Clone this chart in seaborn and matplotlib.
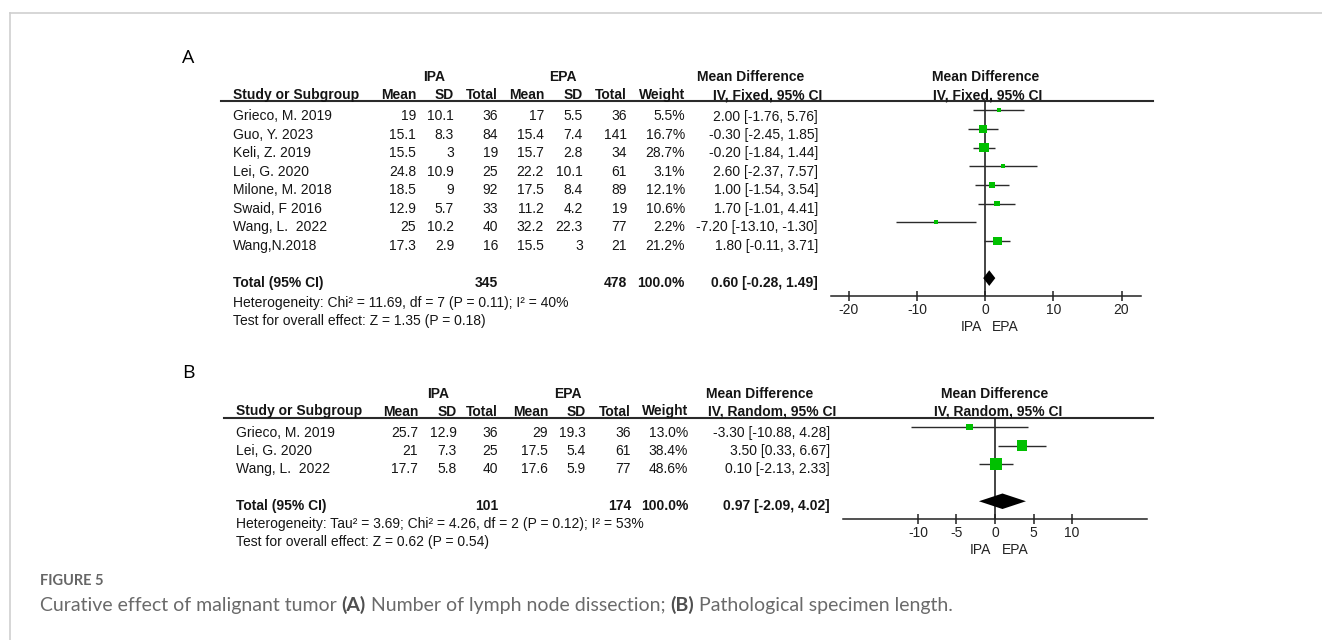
import numpy as np
import matplotlib
matplotlib.use("Agg")
import matplotlib.pyplot as plt
import seaborn as sns

# ---------------- data : panel A (number of lymph node dissection) ----------------
a_studies = ["Grieco, M. 2019", "Guo, Y. 2023", "Keli, Z. 2019", "Lei, G. 2020",
             "Milone, M. 2018", "Swaid, F 2016", "Wang, L.  2022", "Wang,N.2018"]
a_ipa_mean = [19, 15.1, 15.5, 24.8, 18.5, 12.9, 25, 17.3]
a_ipa_sd = [10.1, 8.3, 3, 10.9, 9, 5.7, 10.2, 2.9]
a_ipa_n = [36, 84, 19, 25, 92, 33, 40, 16]
a_epa_mean = [17, 15.4, 15.7, 22.2, 17.5, 11.2, 32.2, 15.5]
a_epa_sd = [5.5, 7.4, 2.8, 10.1, 8.4, 4.2, 22.3, 3]
a_epa_n = [36, 141, 34, 61, 89, 19, 77, 21]
a_weight = [5.5, 16.7, 28.7, 3.1, 12.1, 10.6, 2.2, 21.2]
a_md = [2.00, -0.30, -0.20, 2.60, 1.00, 1.70, -7.20, 1.80]
a_lo = [-1.76, -2.45, -1.84, -2.37, -1.54, -1.01, -13.10, -0.11]
a_hi = [5.76, 1.85, 1.44, 7.57, 3.54, 4.41, -1.30, 3.71]
a_total_n = [345, 478]
a_total_ci = [0.60, -0.28, 1.49]
a_ticks = [-20, -10, 0, 10, 20]
a_method = "IV, Fixed, 95% CI"
a_het = "Heterogeneity: Chi\u00b2 = 11.69, df = 7 (P = 0.11); I\u00b2 = 40%"
a_test = "Test for overall effect: Z = 1.35 (P = 0.18)"

# ---------------- data : panel B (pathological specimen length) ----------------
b_studies = ["Grieco, M. 2019", "Lei, G. 2020", "Wang, L.  2022"]
b_ipa_mean = [25.7, 21, 17.7]
b_ipa_sd = [12.9, 7.3, 5.8]
b_ipa_n = [36, 25, 40]
b_epa_mean = [29, 17.5, 17.6]
b_epa_sd = [19.3, 5.4, 5.9]
b_epa_n = [36, 61, 77]
b_weight = [13.0, 38.4, 48.6]
b_md = [-3.30, 3.50, 0.10]
b_lo = [-10.88, 0.33, -2.13]
b_hi = [4.28, 6.67, 2.33]
b_total_n = [101, 174]
b_total_ci = [0.97, -2.09, 4.02]
b_ticks = [-10, -5, 0, 5, 10]
b_method = "IV, Random, 95% CI"
b_het = "Heterogeneity: Tau\u00b2 = 3.69; Chi\u00b2 = 4.26, df = 2 (P = 0.12); I\u00b2 = 53%"
b_test = "Test for overall effect: Z = 0.62 (P = 0.54)"

group_labels = ["IPA", "EPA"]
col_heads = ["Mean", "SD", "Total", "Mean", "SD", "Total", "Weight"]
caption_title = "FIGURE 5"
caption_parts = [("Curative effect of malignant tumor ", False), ("(A)", True),
                 (" Number of lymph node dissection; ", False), ("(B)", True),
                 (" Pathological specimen length.", False)]

# ---------------- figure ----------------
W, H = 1322, 640
fig = plt.figure(figsize=(W / 100, H / 100), dpi=100)
SANS = ["Liberation Sans", "DejaVu Sans"]
plt.rcParams["font.family"] = SANS
TXT = "#151515"
GREEN = "#00c000"

bg = fig.add_axes([0, 0, 1, 1])
bg.set_xlim(0, W)
bg.set_ylim(H, 0)
bg.axis("off")

# light frame
bg.plot([9.5, 9.5], [H, 12.5], color="#cfcfcf", lw=1.2)
bg.plot([9.5, W], [12.5, 12.5], color="#cfcfcf", lw=1.2)


def txt(x, y, s, ha="left", bold=False, size=10, color=TXT, va="baseline", family=None):
    return bg.text(x, y, s, ha=ha, va=va, fontsize=size, color=color,
                   fontweight="bold" if bold else "normal", family=family or SANS)


def fmt(v):
    return f"{v:g}"


def panel(label, lay, studies, cols, weight, md, lo, hi, total_n, total_ci, method, het, test):
    txt(lay["label"][0], lay["label"][1], label, ha="center", va="center", size=14,
        color="#000000", family=["Open Sans", "DejaVu Sans"])
    g = lay["g_base"]
    txt(lay["ipa_c"], g, group_labels[0], ha="center", bold=True)
    txt(lay["epa_c"], g, group_labels[1], ha="center", bold=True)
    txt(lay["md_c"], g, "Mean Difference", ha="center", bold=True)
    txt(lay["fmd_c"], g, "Mean Difference", ha="center", bold=True)
    h = lay["h_base"]
    txt(lay["name_x"], h, "Study or Subgroup", bold=True)
    for head, xr in zip(col_heads, lay["cols"]):
        txt(xr, h, head, ha="right", bold=True)
    txt(lay["ci_hc"], h, method, ha="center", bold=True)
    txt(lay["fci_hc"], h, method, ha="center", bold=True)
    bg.plot([lay["line_x0"], 1153], [lay["line_y"], lay["line_y"]], color="#2a2a2a", lw=1.5)
    for i, name in enumerate(studies):
        y = lay["row0"] + lay["step"] * i
        txt(lay["name_x"], y, name)
        vals = [fmt(c[i]) for c in cols] + [f"{weight[i]:.1f}%"]
        for v, xr in zip(vals, lay["cols"]):
            txt(xr, y, v, ha="right")
        txt(lay["ci_r"], y, f"{md[i]:.2f} [{lo[i]:.2f}, {hi[i]:.2f}]", ha="right")
    ty = lay["tot"]
    txt(lay["name_x"], ty, "Total (95% CI)", bold=True)
    txt(lay["cols"][2], ty, str(total_n[0]), ha="right", bold=True)
    txt(lay["cols"][5], ty, str(total_n[1]), ha="right", bold=True)
    txt(lay["cols"][6], ty, "100.0%", ha="right", bold=True)
    txt(lay["ci_r"], ty, f"{total_ci[0]:.2f} [{total_ci[1]:.2f}, {total_ci[2]:.2f}]",
        ha="right", bold=True)
    txt(lay["name_x"], lay["het"], het)
    txt(lay["name_x"], lay["test"], test)


def forest(rect, xlim, ticks, md, lo, hi, weight, total_ci, kside, min_side):
    x0, y0, x1, y1 = rect
    ax = fig.add_axes([x0 / W, 1 - y1 / H, (x1 - x0) / W, (y1 - y0) / H])
    ax.patch.set_alpha(0)
    n = len(md)
    rows = np.arange(n)
    trow = n + 1
    ax.set_xlim(*xlim)
    ax.set_ylim(trow + 0.96, -0.53)
    ax.axvline(0, color="#111111", lw=1.1, zorder=1)
    ax.hlines(rows, lo, hi, color="#2b2b2b", lw=1.0, zorder=2)
    sizes = [(max(kside * np.sqrt(w), min_side) * 0.72) ** 2 for w in weight]
    sns.scatterplot(x=md, y=rows, s=sizes, marker="s", color=GREEN, linewidth=0,
                    ax=ax, zorder=3, legend=False)
    e, l, u = total_ci
    hh = 0.42
    ax.fill([l, e, u, e], [trow, trow - hh, trow, trow + hh], color="#000000", lw=0, zorder=4)
    for s in ["top", "left", "right"]:
        ax.spines[s].set_visible(False)
    ax.spines["bottom"].set_color("#222222")
    ax.spines["bottom"].set_linewidth(1.1)
    ax.set_yticks([])
    ax.set_xticks(ticks)
    ax.set_xticklabels([str(t) for t in ticks])
    ax.tick_params(axis="x", direction="inout", length=6.5, width=1.1, color="#222222",
                   labelsize=10, labelcolor="#222222", pad=2)
    ax.set_xlabel("")
    ax.set_ylabel("")
    ax.annotate(group_labels[0], xy=(0, 0), xycoords=("data", "axes fraction"),
                xytext=(-2.5, -22.3), textcoords="offset points", ha="right", va="center",
                fontsize=10, color="#222222")
    ax.annotate(group_labels[1], xy=(0, 0), xycoords=("data", "axes fraction"),
                xytext=(4.7, -22.3), textcoords="offset points", ha="left", va="center",
                fontsize=10, color="#222222")
    return ax


lay_a = dict(label=(188, 58), g_base=81, ipa_c=434, epa_c=563, md_c=751, fmd_c=986,
             h_base=99, name_x=233, cols=[416, 454, 498, 544, 583, 627, 685],
             ci_hc=768, fci_hc=988, line_x0=221, line_y=100.5, row0=120.5, step=18.43,
             ci_r=818, tot=287, het=306.5, test=325)
lay_b = dict(label=(188, 373), g_base=398, ipa_c=438, epa_c=568, md_c=760, fmd_c=995,
             h_base=415.5, name_x=236, cols=[418, 457, 498, 548, 586, 631, 688],
             ci_hc=772, fci_hc=998, line_x0=224, line_y=417.5, row0=437, step=18.2,
             ci_r=830, tot=510, het=528, test=546)

panel("A", lay_a, a_studies, [a_ipa_mean, a_ipa_sd, a_ipa_n, a_epa_mean, a_epa_sd, a_epa_n],
      a_weight, a_md, a_lo, a_hi, a_total_n, a_total_ci, a_method, a_het, a_test)
panel("B", lay_b, b_studies, [b_ipa_mean, b_ipa_sd, b_ipa_n, b_epa_mean, b_epa_sd, b_epa_n],
      b_weight, b_md, b_lo, b_hi, b_total_n, b_total_ci, b_method, b_het, b_test)

forest((831, 100.5, 1141, 296), (-22.6, 22.85), a_ticks, a_md, a_lo, a_hi, a_weight,
       a_total_ci, 1.8, 3.6)
forest((843, 417.5, 1147, 519), (-19.74, 19.74), b_ticks, b_md, b_lo, b_hi, b_weight,
       b_total_ci, 1.75, 3.6)

# ---------------- caption ----------------
CAP_FAM = ["Lato", "DejaVu Sans"]
renderer = fig.canvas.get_renderer()


def adv(s, bold, size):
    def w(z):
        t = bg.text(0, 0, z, fontsize=size, family=CAP_FAM,
                    fontweight="bold" if bold else "normal")
        ww = t.get_window_extent(renderer).width
        t.remove()
        return ww
    return w("I" + s + "I") - w("II")


ref = 12.0
tot_w = sum(adv(s, b, ref) for s, b in caption_parts)
cap_size = ref * 910.0 / tot_w
x = 40.0
for s, b in caption_parts:
    bg.text(x, 605, s, fontsize=cap_size, family=CAP_FAM, va="center", ha="left",
            fontweight="bold" if b else "normal", color="#4f4f4f" if b else "#6a6a6a")
    x += adv(s, b, cap_size)

bg.text(40, 581, caption_title, fontsize=10.5, family=CAP_FAM, va="center",
        ha="left", fontweight="bold", color="#666666")

fig.savefig("out.png", dpi=100)
